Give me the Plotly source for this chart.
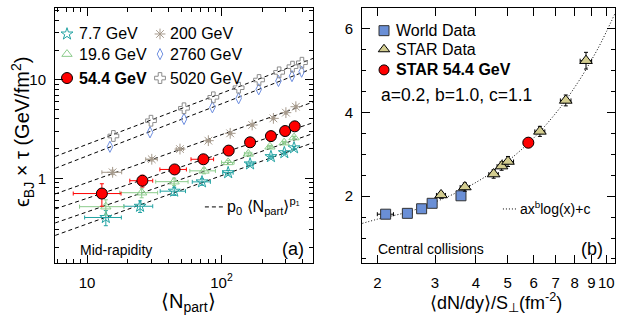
import plotly.graph_objects as go

# ---- panel (a): energy density x tau vs Npart ----
npart_7 = [13.8, 24.8, 44.5, 71.6, 112, 163, 233, 293, 346]
eps_7 = [0.40, 0.52, 0.74, 0.92, 1.14, 1.40, 1.66, 1.82, 2.04]
xerr_7 = [4.2, 6, 9.5, 11, 10, 9, 8, 6, 4]
yerr_7 = [0.07, 0.07, 0.07, 0.07, 0.06, 0.06, 0.06, 0.06, 0.06]

npart_19 = [13.8, 25.5, 44.4, 74.1, 112, 158, 229, 292, 346]
eps_19 = [0.515, 0.714, 0.924, 1.19, 1.45, 1.77, 2.09, 2.30, 2.59]
xerr_19 = [5, 8, 12, 16, 12, 10, 9, 7, 5]
yerr_19 = [0.09, 0.08, 0.08, 0.08, 0.07, 0.07, 0.07, 0.07, 0.07]

npart_54 = [12.9, 25.8, 44.8, 73.3, 113, 163, 233, 297, 350]
eps_54 = [0.70, 0.945, 1.23, 1.56, 1.91, 2.32, 2.68, 3.02, 3.37]
xerr_54 = [5, 5, 10, 14, 10, 8, 6, 4, 3]
yerr_54 = [0.18, 0.13, 0.11, 0.10, 0.08, 0.08, 0.08, 0.08, 0.08]

npart_200 = [15.5, 30.3, 49.1, 79.8, 116, 169, 243, 301, 357]
eps_200 = [1.15, 1.56, 1.98, 2.41, 2.86, 3.48, 4.06, 4.64, 5.33]
xerr_200 = [2.6, 3, 3, 3, 3, 3, 3, 3, 3]
yerr_200 = [0.06, 0.06, 0.06, 0.07, 0.08, 0.09, 0.1, 0.12, 0.13]

npart_2760 = [14.8, 29.4, 52.6, 85.5, 134, 189, 265, 334, 394]
eps_2760 = [2.09, 2.93, 4.0, 5.26, 6.49, 8.0, 9.73, 10.9, 12.1]

npart_5020 = [15.7, 29.9, 52.6, 86.9, 134, 190, 268, 337, 396]
eps_5020 = [2.69, 3.84, 5.14, 6.64, 8.31, 9.95, 11.9, 13.6, 14.9]

# p0 <Npart>^p1 fit lines, read at the two frame edges
fit_npart = [5.8, 480]
fit_7 = [0.263, 2.30]
fit_19 = [0.352, 2.85]
fit_54 = [0.488, 3.67]
fit_200 = [0.693, 5.95]
fit_2760 = [1.263, 13.09]
fit_5020 = [1.665, 16.5]

# ---- panel (b): vs dN/dy / S_perp ----
world_x = [2.12, 2.47, 2.73, 2.94, 3.60]
world_y = [1.57, 1.59, 1.70, 1.83, 2.01]
world_xerr = [0.12, 0.08, 0.05, 0.05, 0.0]

star_x = [3.13, 3.70, 4.53, 4.79, 5.01, 6.27, 7.52, 8.67]
star_y = [2.03, 2.22, 2.53, 2.72, 2.83, 3.55, 4.29, 5.24]
star_xerr = [0.1, 0.12, 0.15, 0.15, 0.2, 0.22, 0.28, 0.35]
star_yerr = [0.08, 0.1, 0.1, 0.1, 0.12, 0.12, 0.13, 0.2]

s54_x = [5.78]
s54_y = [3.28]

curve_x = [1.8, 2.0, 2.5, 3.0, 3.5, 4.0, 4.5, 5.0, 5.5, 6.0, 6.5, 7.0, 7.5, 8.0, 8.5, 9.0, 9.5, 10.0, 10.6]
curve_y = [1.35, 1.45, 1.63, 1.86, 2.09, 2.33, 2.58, 2.84, 3.11, 3.39, 3.68, 3.98, 4.28, 4.6, 4.92, 5.25, 5.58, 5.93, 6.35]

TEAL = "#22a3a3"
GREEN = "#8ccc8c"
RED = "#ff0000"
BROWN = "#a69a8c"
BLUE = "#6f8fe0"
GREY = "#8c8c8c"
SQ = "#6a8fd6"
KHAKI = "#d3cd90"
FONT = "Liberation Sans"
DASH = "4px,3px"
DOT = "1px,2px"

W, H = 620, 328


def px(x):
    return x / W


def py(y):
    return 1 - y / H


fig = go.Figure()

# fit lines first so markers sit on top
for fy in [fit_7, fit_19, fit_54, fit_200, fit_2760, fit_5020]:
    fig.add_trace(go.Scatter(x=fit_npart, y=fy, mode="lines",
                             line=dict(color="black", width=1, dash=DASH),
                             xaxis="x", yaxis="y", hoverinfo="skip"))


def err(arr, color):
    return dict(type="data", array=arr, color=color, thickness=1, width=2)


series_a = [
    (npart_7, eps_7, xerr_7, yerr_7, "star-open", TEAL, 9, "7.7 GeV"),
    (npart_19, eps_19, xerr_19, yerr_19, "triangle-up-open", GREEN, 9, "19.6 GeV"),
    (npart_200, eps_200, xerr_200, yerr_200, "asterisk-open", BROWN, 9, "200 GeV"),
    (npart_2760, eps_2760, None, None, "diamond-tall-open", BLUE, 8, "2760 GeV"),
    (npart_5020, eps_5020, None, None, "cross-open", GREY, 9, "5020 GeV"),
]
for xs, ys, xe, ye, sym, col, size, name in series_a:
    fig.add_trace(go.Scatter(
        x=xs, y=ys, mode="markers", name=name,
        marker=dict(symbol=sym, size=size, color=col, line=dict(color=col, width=1)),
        error_x=err(xe, col) if xe else None,
        error_y=err(ye, col) if ye else None,
        xaxis="x", yaxis="y"))

fig.add_trace(go.Scatter(
    x=npart_54, y=eps_54, mode="markers", name="54.4 GeV",
    marker=dict(symbol="circle", size=11, color=RED, line=dict(color="black", width=1)),
    error_x=err(xerr_54, RED), error_y=err(yerr_54, RED),
    xaxis="x", yaxis="y"))

# panel (b)
fig.add_trace(go.Scatter(x=curve_x, y=curve_y, mode="lines", line_shape="spline",
                         line=dict(color="black", width=1, dash=DOT),
                         xaxis="x2", yaxis="y2", hoverinfo="skip"))
fig.add_trace(go.Scatter(
    x=world_x, y=world_y, mode="markers", name="World Data",
    marker=dict(symbol="square", size=10, color=SQ, line=dict(color="#333333", width=1)),
    error_x=err(world_xerr, "black"), xaxis="x2", yaxis="y2"))
fig.add_trace(go.Scatter(
    x=star_x, y=star_y, mode="markers", name="STAR Data",
    marker=dict(symbol="triangle-up", size=11, color=KHAKI, line=dict(color="black", width=1)),
    error_x=err(star_xerr, "black"), error_y=err(star_yerr, "black"),
    xaxis="x2", yaxis="y2"))
fig.add_trace(go.Scatter(
    x=s54_x, y=s54_y, mode="markers", name="STAR 54.4 GeV",
    marker=dict(symbol="circle", size=11, color=RED, line=dict(color="black", width=1)),
    error_x=err([0.2], RED), error_y=err([0.12], RED),
    xaxis="x2", yaxis="y2"))

# ---- hand-made legends (overlay axes in 0..1 frame units) ----
leg_a = [
    (0.0465, 0.898, "star-open", TEAL, TEAL, 9),
    (0.0465, 0.819, "triangle-up-open", GREEN, GREEN, 9),
    (0.0465, 0.725, "circle", RED, "black", 11),
    (0.407, 0.898, "asterisk-open", BROWN, BROWN, 9),
    (0.407, 0.819, "diamond-tall-open", BLUE, BLUE, 8),
    (0.407, 0.725, "cross-open", GREY, GREY, 9),
]
for lx, ly, sym, col, lc, size in leg_a:
    fig.add_trace(go.Scatter(x=[lx], y=[ly], mode="markers",
                             marker=dict(symbol=sym, size=size, color=col, line=dict(color=lc, width=1)),
                             xaxis="x3", yaxis="y3", hoverinfo="skip"))
fig.add_trace(go.Scatter(x=[0.581, 0.651], y=[0.219, 0.219], mode="lines",
                         line=dict(color="black", width=1, dash=DASH),
                         xaxis="x3", yaxis="y3", hoverinfo="skip"))

leg_b = [
    (0.087, 0.911, "square", SQ, "#333333", 10),
    (0.087, 0.838, "triangle-up", KHAKI, "black", 10),
    (0.087, 0.757, "circle", RED, "black", 10),
]
for lx, ly, sym, col, lc, size in leg_b:
    fig.add_trace(go.Scatter(x=[lx], y=[ly], mode="markers",
                             marker=dict(symbol=sym, size=size, color=col, line=dict(color=lc, width=1)),
                             xaxis="x4", yaxis="y4", hoverinfo="skip"))
fig.add_trace(go.Scatter(x=[0.557, 0.613], y=[0.211, 0.211], mode="lines",
                         line=dict(color="black", width=1, dash=DOT),
                         xaxis="x4", yaxis="y4", hoverinfo="skip"))

dom_a = [55 / W, 313 / W]
dom_b = [362 / W, 615 / W]
dom_y = [1 - 262.7 / H, 1 - 8 / H]

axis_common = dict(showline=True, linecolor="black", linewidth=1, mirror="allticks",
                   ticks="inside", ticklen=8, tickcolor="black", showgrid=False,
                   zeroline=False, ticklabeloverflow="allow",
                   tickfont=dict(family=FONT, size=15, color="black"))

fig.update_layout(
    width=W, height=H, margin=dict(l=0, r=0, t=0, b=0),
    paper_bgcolor="white", plot_bgcolor="rgba(0,0,0,0)", showlegend=False,
    font=dict(family=FONT, color="black"),
    xaxis=dict(axis_common, domain=dom_a, anchor="y", type="log",
               range=[0.762, 2.680], tickvals=[10, 100], ticktext=["10", "10<sup>2</sup>"],
               ticklabelstandoff=6,
               minor=dict(ticks="inside", ticklen=4, tickcolor="black",
                          tickvals=[6, 7, 8, 9, 20, 30, 40, 50, 60, 70, 80, 90, 200, 300, 400])),
    yaxis=dict(axis_common, domain=dom_y, anchor="x", type="log",
               range=[-0.857, 1.729], tickvals=[1, 10], ticktext=["1", "10"],
               ticklabelstandoff=5,
               minor=dict(ticks="inside", ticklen=4, tickcolor="black",
                          tickvals=[0.2, 0.3, 0.4, 0.5, 0.6, 0.7, 0.8, 0.9,
                                    2, 3, 4, 5, 6, 7, 8, 9, 20, 30, 40, 50])),
    xaxis2=dict(axis_common, domain=dom_b, anchor="y2", type="log",
                range=[0.2542, 1.0265], tickvals=[2, 3, 4, 5, 6, 7, 8, 9, 10],
                ticktext=["2", "3", "4", "5", "6", "7", "8", "9", "10"],
                ticklabelstandoff=6),
    yaxis2=dict(axis_common, domain=dom_y, anchor="x2", range=[0.41, 6.5],
                tickvals=[2, 4, 6], ticklabelstandoff=5,
                minor=dict(ticks="inside", ticklen=4, tickcolor="black",
                           tickvals=[0.5, 1, 1.5, 2.5, 3, 3.5, 4.5, 5, 5.5, 6.5])),
    xaxis3=dict(overlaying="x", anchor="y3", range=[0, 1], visible=False),
    yaxis3=dict(overlaying="y", anchor="x3", range=[0, 1], visible=False),
    xaxis4=dict(overlaying="x2", anchor="y4", range=[0, 1], visible=False),
    yaxis4=dict(overlaying="y2", anchor="x4", range=[0, 1], visible=False),
)


def note(text, x, y, size, xanchor="left", yanchor="middle", angle=0):
    fig.add_annotation(text=text, x=px(x), y=py(y), xref="paper", yref="paper",
                       xanchor=xanchor, yanchor=yanchor, showarrow=False, textangle=angle,
                       font=dict(family=FONT, size=size, color="black"))


# legend texts (a)
note("7.7 GeV", 77, 34, 16)
note("19.6 GeV", 77, 54, 16)
note("<b>54.4 GeV</b>", 77, 78, 16)
note("200 GeV", 168, 34, 16)
note("2760 GeV", 168, 54, 16)
note("5020 GeV", 168, 78, 16)
note("p<sub>0</sub> ⟨N<sub>part</sub>⟩<sup>p₁</sup>", 225, 206, 16)
note("Mid-rapidity", 78, 250, 14)
note("(a)", 306, 249, 18, xanchor="right")

# legend texts (b)
note("World Data", 394, 31, 16)
note("STAR Data", 394, 49, 16)
note("<b>STAR 54.4 GeV</b>", 394, 70, 16)
note("a=0.2, b=1.0, c=1.1", 379, 95, 17.5)
note("ax<sup>b</sup>log(x)+c", 518, 208, 14)
note("Central collisions", 376, 249, 14)
note("(b)", 605, 249, 18, xanchor="right")

# axis titles
note("ϵ<sub>BJ</sub> × τ (GeV/fm<sup>2</sup>)", 22, 132, 20, xanchor="center", angle=-90)
note("⟨N<sub>part</sub>⟩", 189, 302, 20, xanchor="center")
note("⟨dN/dy⟩/S<sub>⊥</sub>(fm<sup>-2</sup>)", 496, 302, 18, xanchor="center")

# the page body has a default 8px margin; drop it so the figure sits at the corner
fig.write_html("out.html", config={"displayModeBar": False},
               post_script="document.body.style.margin='0px';")
